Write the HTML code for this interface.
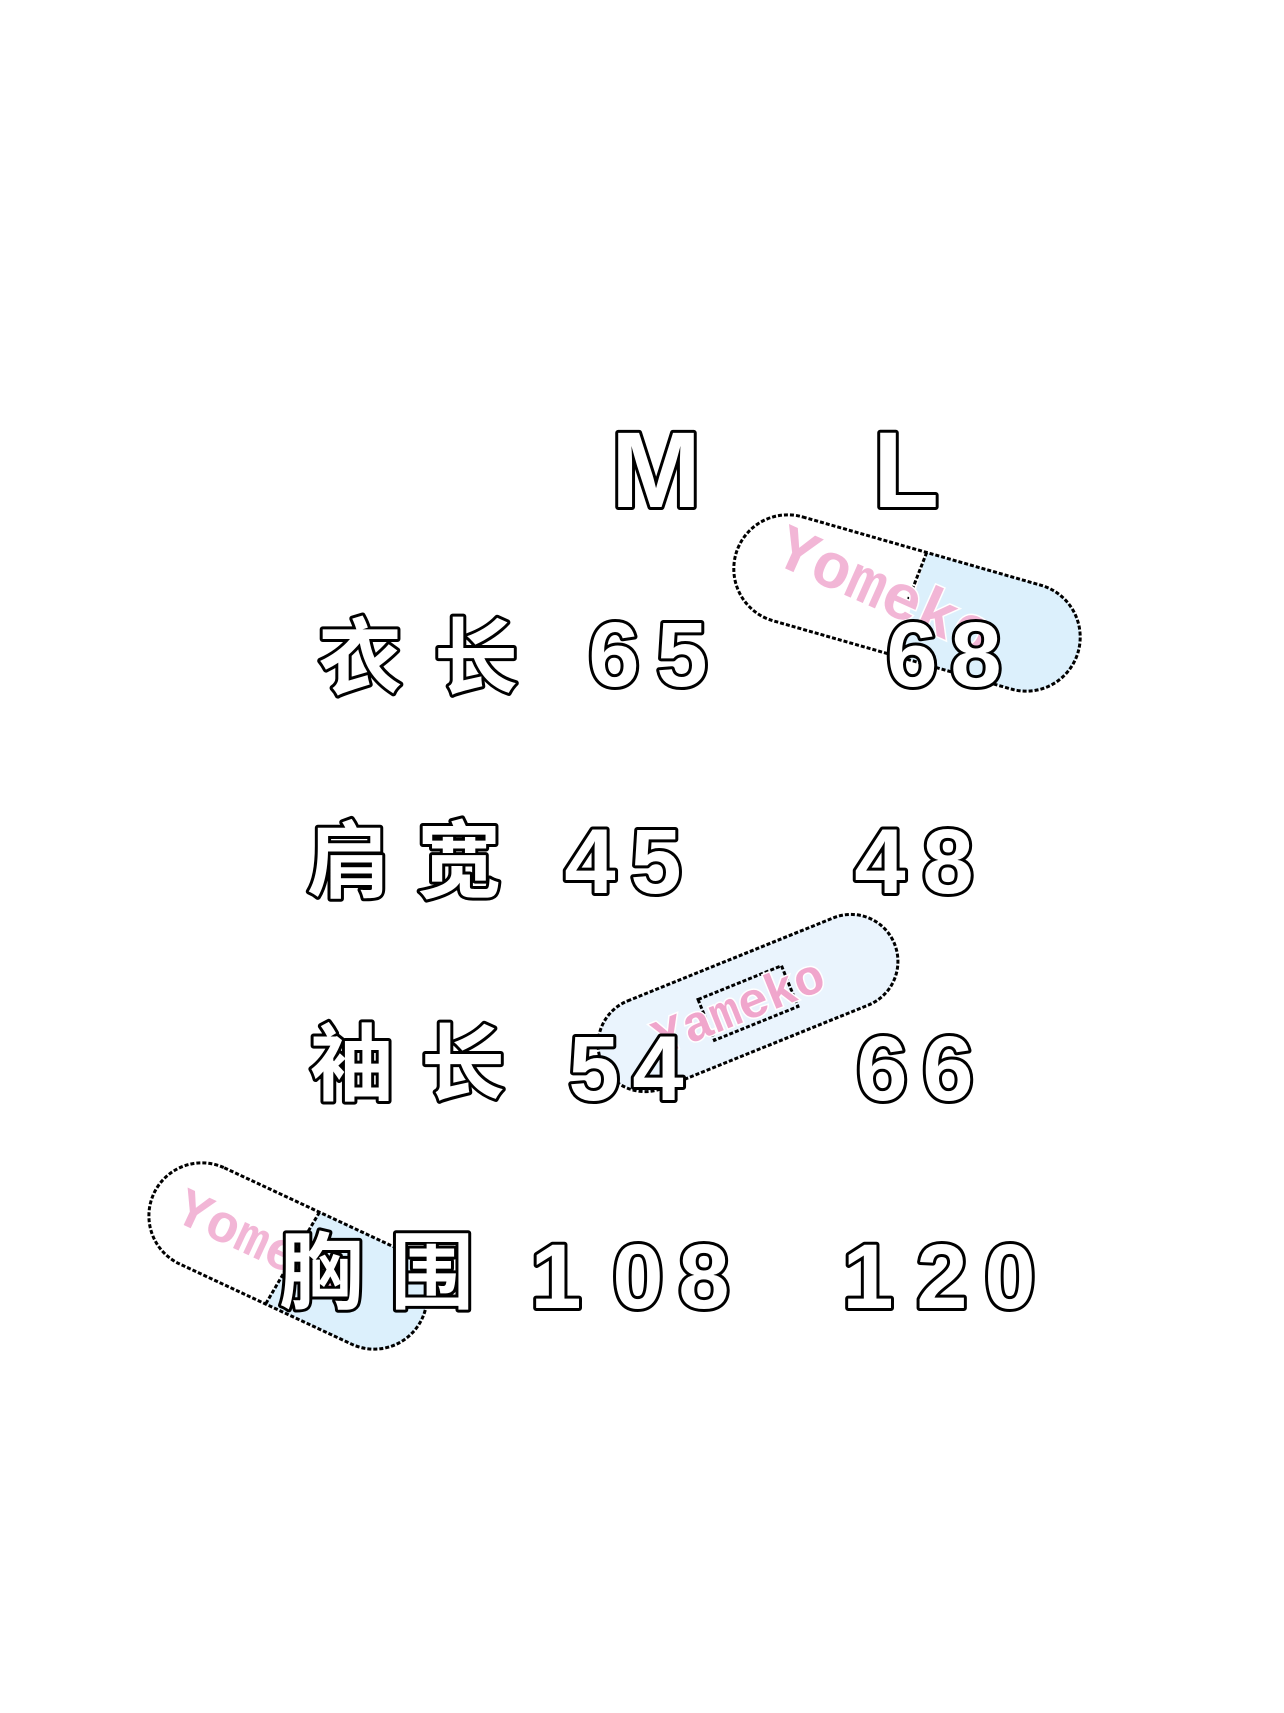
<!DOCTYPE html>
<html><head><meta charset="utf-8"><style>
html,body{margin:0;padding:0;background:#fff;}
svg{display:block}
.t{font-family:"Liberation Sans","Noto Sans CJK SC",sans-serif;fill:#fff;stroke:#000;stroke-width:6;paint-order:stroke;stroke-linejoin:round;text-anchor:middle;}
.c{font-family:"Noto Sans CJK SC","WenQuanYi Zen Hei",sans-serif;font-weight:bold;font-size:84px;}
.d{font-size:92px;font-weight:bold;}
.h{font-size:108px;font-weight:bold;}
.y{font-family:"Liberation Mono",monospace;font-weight:bold;fill:#f2b6d6;stroke:#fff;stroke-width:3;paint-order:stroke;}
.ol{fill:none;stroke:#000;stroke-width:3;stroke-dasharray:4 2;}
</style></head><body>
<svg width="1284" height="1713" viewBox="0 0 1284 1713" xmlns="http://www.w3.org/2000/svg">
<g transform="translate(907,603) rotate(16)">
  <rect x="-178" y="-54" width="356" height="108" rx="54" fill="#fff"/>
  <path d="M5,-54 H124 A54,54 0 0 1 124,54 H5 Z" fill="#dcf0fc"/>
  <rect class="ol" x="-178" y="-54" width="356" height="108" rx="54"/>
  <line class="ol" x1="5" y1="-54" x2="0" y2="0"/>
  <text class="y" x="-140" y="18" font-size="64" transform="rotate(8)">Yomeko</text>
</g>
<g transform="translate(748,1003) rotate(-22)">
  <rect x="-158" y="-47" width="316" height="94" rx="47" fill="#eaf4fd"/>
  <rect class="ol" x="-158" y="-47" width="316" height="94" rx="47"/>
  <rect x="-45" y="-22" width="90" height="44" fill="#fff" class="ol"/>
  <text class="y" x="-100" y="16" font-size="50" style="fill:#f0a6cc;stroke:#fff">Yameko</text>
</g>
<g transform="translate(288,1256) rotate(25)">
  <rect x="-148" y="-53" width="296" height="106" rx="53" fill="#fff"/>
  <path d="M10,-53 H95 A53,53 0 0 1 95,53 H0 Z" fill="#dcf0fc"/>
  <rect class="ol" x="-148" y="-53" width="296" height="106" rx="53"/>
  <line class="ol" x1="10" y1="-53" x2="0" y2="53"/>
  <text class="y" x="-120" y="16" font-size="54">Yomeko</text>
</g>

<text class="t h" x="656" y="507">M</text>
<text class="t h" x="906" y="507">L</text>

<text class="t c" x="360" y="688">衣</text>
<text class="t c" x="476" y="688">长</text>
<text class="t d" x="614" y="686">6</text>
<text class="t d" x="682" y="686">5</text>
<text class="t d" x="912" y="686">6</text>
<text class="t d" x="976" y="686">8</text>

<text class="t c" x="349" y="891">肩</text>
<text class="t c" x="459" y="891">宽</text>
<text class="t d" x="590" y="893">4</text>
<text class="t d" x="656" y="893">5</text>
<text class="t d" x="880" y="893">4</text>
<text class="t d" x="948" y="893">8</text>

<text class="t c" x="352" y="1094">袖</text>
<text class="t c" x="463" y="1094">长</text>
<text class="t d" x="594" y="1100">5</text>
<text class="t d" x="658" y="1100">4</text>
<text class="t d" x="882" y="1100">6</text>
<text class="t d" x="948" y="1100">6</text>

<text class="t c" x="321" y="1302">胸</text>
<text class="t c" x="432" y="1302">围</text>
<text class="t d" x="556" y="1308">1</text>
<text class="t d" x="638" y="1308">0</text>
<text class="t d" x="704" y="1308">8</text>
<text class="t d" x="868" y="1308">1</text>
<text class="t d" x="942" y="1308">2</text>
<text class="t d" x="1010" y="1308">0</text>
</svg>
</body></html>
